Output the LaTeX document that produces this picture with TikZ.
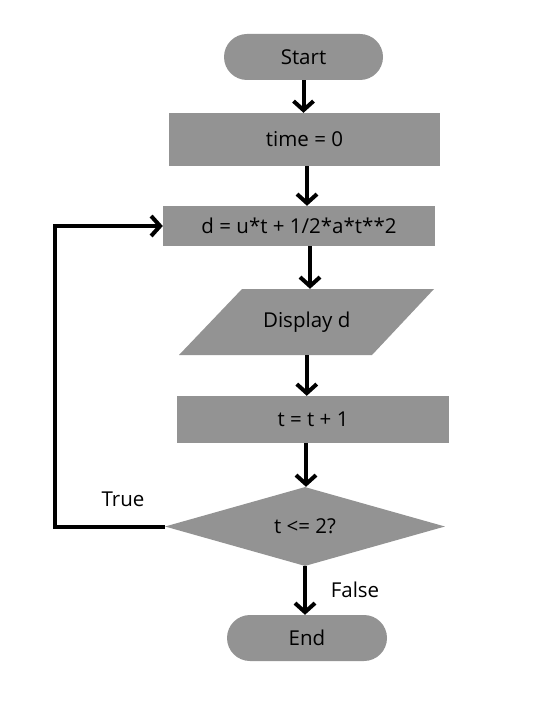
\documentclass[tikz,border=0pt]{standalone}
\usepackage{fontspec}
\setmainfont{Open Sans}
\usetikzlibrary{shapes.geometric,arrows.meta,calc}
\definecolor{boxgray}{HTML}{939393}
\begin{document}
\begin{tikzpicture}[x=1pt,y=-1pt,
  txt/.style={font=\fontsize{20.5}{23}\selectfont, text=black},
  term/.style={txt, fill=boxgray, rounded corners=23pt, minimum width=159pt, minimum height=46pt, inner sep=0pt},
  proc/.style={txt, fill=boxgray, inner sep=0pt},
  flow/.style={line width=4pt, -{Straight Barb[length=9pt,width=20pt]}}]
\useasboundingbox (0,0) rectangle (538,714);
\node[term] (start) at (303.5,57) {Start};
\node[proc, minimum width=271pt, minimum height=53pt] (time) at (304.5,139.5) {time = 0};
\node[proc, minimum width=272pt, minimum height=40pt] (calc) at (299,226) {d = u*t + 1/2*a*t**2};
\fill[boxgray] (242,289) -- (434,289) -- (372,355) -- (179,355) -- cycle;
\node[txt, minimum width=192pt, minimum height=66pt, inner sep=0pt] (disp) at (306.75,322) {Display d};
\node[proc, minimum width=272pt, minimum height=47pt] (inc) at (313,419.5) {t = t + 1};
\node[txt, diamond, fill=boxgray, minimum width=280pt, minimum height=79pt, inner sep=0pt] (dec) at (305,526.5) {t <= 2?};
\node[term, minimum width=160pt] (end) at (307,638) {End};
\node[txt] (truelbl) at (123,499) {True};
\node[txt] (falselbl) at (355,590) {False};
\draw[flow] (start.south) -- (start.south |- time.north);
\draw[flow] ([xshift=2.5pt]time.south) -- ([xshift=2.5pt]time.south |- calc.north);
\draw[flow] ([xshift=11pt]calc.south) -- ([xshift=11pt]calc.south |- disp.north);
\draw[flow] (disp.south) -- (disp.south |- inc.north);
\draw[flow] ([xshift=-7pt]inc.south) -- ([xshift=-7pt]inc.south |- dec.north);
\draw[flow] (dec.south) -- (dec.south |- end.north);
\draw[flow] (dec.west) -- ++(-110,0) |- (calc.west);
\end{tikzpicture}
\end{document}
